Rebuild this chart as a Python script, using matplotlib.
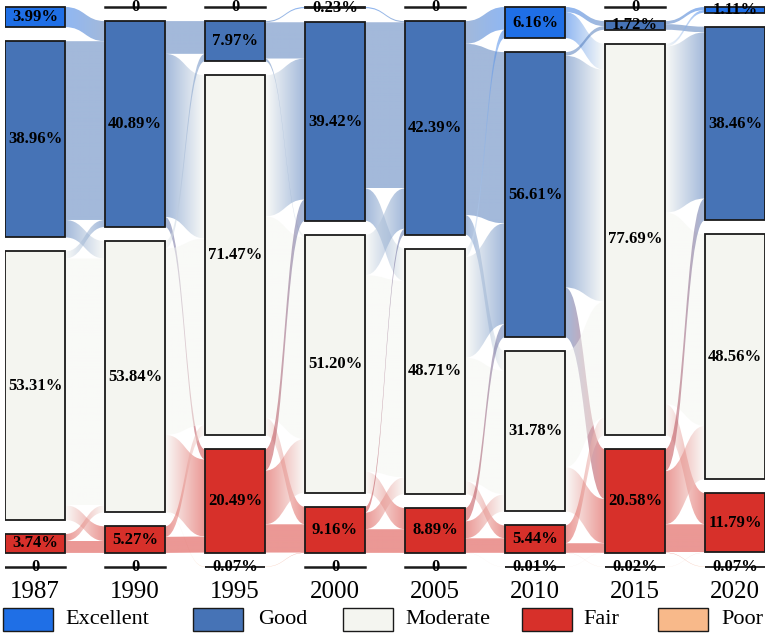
import numpy as np
import matplotlib.pyplot as plt
from matplotlib.path import Path
from matplotlib.patches import PathPatch, Rectangle
from matplotlib.colors import to_rgba

plt.rcParams["font.family"] = ["Liberation Serif", "DejaVu Serif"]

years = ["1987", "1990", "1995", "2000", "2005", "2010", "2015", "2020"]
classes = ["Excellent", "Good", "Moderate", "Fair", "Poor"]
class_colors = ["#1f6fe6", "#4673b6", "#f4f5f0", "#d7302a", "#f8b98a"]
E, G, M, F, P = range(5)

# share of each class (%) per year, order: Excellent, Good, Moderate, Fair, Poor
share_1987 = [3.99, 38.96, 53.31, 3.74, 0]
share_1990 = [0, 40.89, 53.84, 5.27, 0]
share_1995 = [0, 7.97, 71.47, 20.49, 0.07]
share_2000 = [0.23, 39.42, 51.20, 9.16, 0]
share_2005 = [0, 42.39, 48.71, 8.89, 0]
share_2010 = [6.16, 56.61, 31.78, 5.44, 0.01]
share_2015 = [0, 1.72, 77.69, 20.58, 0.02]
share_2020 = [1.11, 38.46, 48.56, 11.79, 0.07]
shares = [share_1987, share_1990, share_1995, share_2000,
          share_2005, share_2010, share_2015, share_2020]

# transitions between consecutive years (source, target, %) - estimated
flows_87_90 = [(E, G, 3.99), (G, G, 35.50), (G, M, 3.46),
               (M, G, 1.40), (M, M, 49.00), (M, F, 2.91),
               (F, M, 1.38), (F, F, 2.36)]
flows_90_95 = [(G, G, 6.50), (G, M, 32.39), (G, F, 2.00),
               (M, G, 1.47), (M, M, 37.00), (M, F, 15.30), (M, P, 0.07),
               (F, M, 2.08), (F, F, 3.19)]
flows_95_00 = [(G, E, 0.23), (G, G, 7.20), (G, M, 0.54),
               (M, G, 28.00), (M, M, 40.00), (M, F, 3.47),
               (F, G, 4.22), (F, M, 10.66), (F, F, 5.61),
               (P, F, 0.07)]
flows_00_05 = [(E, G, 0.23), (G, G, 33.00), (G, M, 6.42),
               (M, G, 8.00), (M, M, 39.00), (M, F, 4.20),
               (F, G, 1.16), (F, M, 3.29), (F, F, 4.69)]
flows_05_10 = [(G, E, 4.50), (G, G, 34.00), (G, M, 3.89),
               (M, E, 1.66), (M, G, 20.00), (M, M, 24.50), (M, F, 2.55),
               (F, G, 2.61), (F, M, 3.39), (F, F, 2.88), (F, P, 0.01)]
flows_10_15 = [(E, G, 1.00), (E, M, 5.16),
               (G, G, 0.72), (G, M, 46.00), (G, F, 9.89),
               (M, M, 23.00), (M, F, 8.78),
               (F, M, 3.53), (F, F, 1.89), (F, P, 0.02),
               (P, F, 0.01)]
flows_15_20 = [(G, E, 0.60), (G, G, 1.12),
               (M, E, 0.51), (M, G, 33.00), (M, M, 38.00), (M, F, 6.18),
               (F, G, 4.34), (F, M, 10.56), (F, F, 5.61), (F, P, 0.07),
               (P, F, 0.02)]
flows = [flows_87_90, flows_90_95, flows_95_00, flows_00_05,
         flows_05_10, flows_10_15, flows_15_20]

gap = 2.8
half_w = 0.3
flow_alpha = 0.5

fig = plt.figure(figsize=(7.68, 6.35), dpi=100)
ax = fig.add_axes([5 / 768, 65 / 635, 760 / 768, 570 / 635])

# node tops
tops = []
for col in shares:
    y = 0.0
    t = []
    for v in col:
        t.append(y)
        y += v + gap
    tops.append(t)

# flows
for i, links in enumerate(flows):
    out_cur = list(tops[i])
    in_cur = list(tops[i + 1])
    src_pos = {}
    for s, t, v in sorted(links, key=lambda l: (l[0], l[1])):
        src_pos[(s, t)] = out_cur[s]
        out_cur[s] += v
    tgt_pos = {}
    for s, t, v in sorted(links, key=lambda l: (l[1], l[0])):
        tgt_pos[(s, t)] = in_cur[t]
        in_cur[t] += v
    x0 = i + half_w
    x1 = i + 1 - half_w
    xm = (x0 + x1) / 2
    for s, t, v in links:
        a0 = src_pos[(s, t)]
        b0 = tgt_pos[(s, t)]
        a1, b1 = a0 + v, b0 + v
        verts = [(x0, a0), (xm, a0), (xm, b0), (x1, b0),
                 (x1, b1), (xm, b1), (xm, a1), (x0, a1), (x0, a0)]
        codes = [Path.MOVETO, Path.CURVE4, Path.CURVE4, Path.CURVE4,
                 Path.LINETO, Path.CURVE4, Path.CURVE4, Path.CURVE4,
                 Path.CLOSEPOLY]
        patch = PathPatch(Path(verts, codes), facecolor="none", edgecolor="none")
        ax.add_patch(patch)
        c0 = np.array(to_rgba(class_colors[s], flow_alpha))
        c1 = np.array(to_rgba(class_colors[t], flow_alpha))
        ramp = np.linspace(0, 1, 80)[:, None]
        grad = (c0 * (1 - ramp) + c1 * ramp)[None, :, :]
        im = ax.imshow(grad, extent=(x0, x1, min(a0, b0), max(a1, b1)),
                       aspect="auto", interpolation="bilinear", zorder=1)
        im.set_clip_path(patch)

# nodes
for i, col in enumerate(shares):
    for k, v in enumerate(col):
        top = tops[i][k]
        if v > 0:
            ax.add_patch(Rectangle((i - half_w, top), 2 * half_w, v,
                                   facecolor=class_colors[k], edgecolor="#1a1a1a",
                                   lw=1.3, zorder=3))
            label = f"{v:.2f}%"
        else:
            ax.plot([i - half_w, i + half_w], [top, top], color="#1a1a1a",
                    lw=1.8, zorder=3)
            label = "0"
        ax.text(i, top + v / 2, label, ha="center", va="center",
                fontsize=12, fontweight="bold", zorder=4)

ax.set_xlim(-0.3, 7.3)
ax.set_ylim(111.2 + 3 / 5.036, -7 / 5.036)
ax.set_xticks(range(len(years)), years, fontsize=18)
ax.tick_params(axis="x", length=0, pad=8)
ax.set_yticks([])
for sp in ax.spines.values():
    sp.set_visible(False)

# legend
box_x = [3, 193, 343, 522, 658]
text_x = [65, 258, 405, 583, 721]
for k, name in enumerate(classes):
    fig.patches.append(Rectangle((box_x[k] / 768, 1 - 631 / 635), 50 / 768, 23 / 635,
                                 transform=fig.transFigure, facecolor=class_colors[k],
                                 edgecolor="#1a1a1a", lw=1.0))
    fig.text(text_x[k] / 768, 1 - 620 / 635, name, ha="left", va="center", fontsize=16)

fig.savefig("out.png", dpi=100)
